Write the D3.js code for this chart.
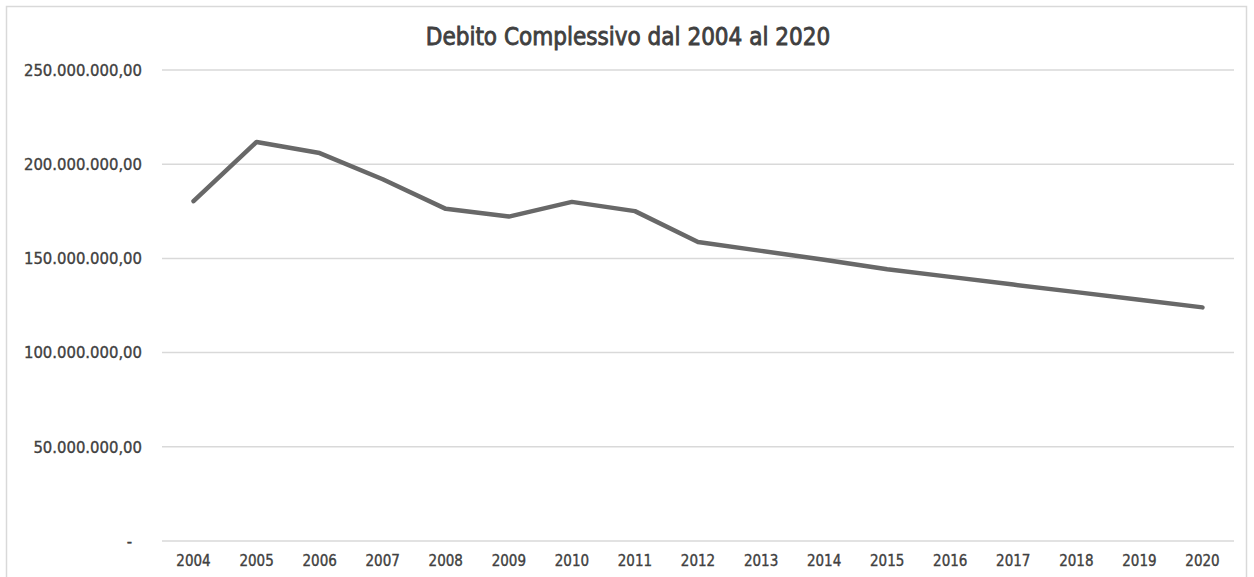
<!DOCTYPE html>
<meta charset="utf-8">
<script src="https://d3js.org/d3.v7.min.js"></script>
<style>
  body { margin: 0; background: #fff; }
  text { font-family: "DejaVu Sans Condensed", "DejaVu Sans", sans-serif; fill: #404040; }
</style>
<div id="my_dataviz"></div>
<script>

var years = ["2004","2005","2006","2007","2008","2009","2010","2011","2012",
             "2013","2014","2015","2016","2017","2018","2019","2020"];
var debito = [180.4e6, 211.8e6, 205.9e6, 192.0e6, 176.3e6, 172.2e6, 180.0e6, 175.1e6, 158.7e6,
              154.0e6, 149.3e6, 144.2e6, 140.2e6, 136.1e6, 132.1e6, 128.0e6, 124.0e6];
var yTicks = [0, 50e6, 100e6, 150e6, 200e6, 250e6];

var W = 1254, H = 577;
var margin = {top: 70, right: 20, bottom: 36, left: 162},
    width = 1234 - margin.left,
    height = 541 - margin.top;

var itLocale = d3.formatLocale({decimal: ",", thousands: ".", grouping: [3], currency: ["", "€"]});
var fmt = itLocale.format(",.2f");

var root = d3.select("#my_dataviz")
  .append("svg")
    .attr("width", W)
    .attr("height", H);

// chart frame
root.append("rect")
  .attr("x", 6.5).attr("y", 6.5)
  .attr("width", 1240).attr("height", 600)
  .attr("fill", "none")
  .attr("stroke", "#d9d9d9")
  .attr("stroke-width", 1.5);

root.append("text")
  .attr("x", 628).attr("y", 45)
  .attr("text-anchor", "middle")
  .style("font-size", "24px")
  .style("fill", "#404040")
  .style("stroke", "#404040")
  .style("stroke-width", "0.8px")
  .text("Debito Complessivo dal 2004 al 2020");

var svg = root.append("g")
  .attr("transform", "translate(" + margin.left + "," + margin.top + ")");

var x = d3.scaleBand()
  .domain(years)
  .range([0, width]);

var y = d3.scaleLinear()
  .domain([0, 250e6])
  .range([height, 0]);

// gridlines
svg.append("g")
  .selectAll("line")
  .data(yTicks)
  .enter().append("line")
    .attr("x1", 0).attr("x2", width)
    .attr("y1", function(d) { return y(d); })
    .attr("y2", function(d) { return y(d); })
    .attr("stroke", "#d9d9d9")
    .attr("stroke-width", 1.5);

// y axis labels
var yAxis = svg.append("g")
  .call(d3.axisLeft(y).tickValues(yTicks).tickSize(0).tickPadding(20)
    .tickFormat(function(d) { return d === 0 ? "-" : fmt(d); }));
yAxis.select(".domain").remove();
yAxis.selectAll("text")
  .style("font-size", "16.5px")
  .style("fill", "#404040")
  .style("stroke", "#404040")
  .style("stroke-width", "0.35px")
  .attr("dx", function(d) { return d === 0 ? -10 : 0; });

// x axis labels
var xAxis = svg.append("g")
  .attr("transform", "translate(0," + height + ")")
  .call(d3.axisBottom(x).tickSize(0).tickPadding(14));
xAxis.select(".domain").remove();
xAxis.selectAll("text")
  .style("font-size", "15px")
  .style("fill", "#404040")
  .style("stroke", "#404040")
  .style("stroke-width", "0.35px");

// line
var line = d3.line()
  .x(function(d, i) { return x(years[i]) + x.bandwidth() / 2; })
  .y(function(d) { return y(d); });

svg.append("path")
  .datum(debito)
  .attr("fill", "none")
  .attr("stroke", "#686868")
  .attr("stroke-width", 4.5)
  .attr("stroke-linejoin", "round")
  .attr("stroke-linecap", "round")
  .attr("d", line);

</script>
